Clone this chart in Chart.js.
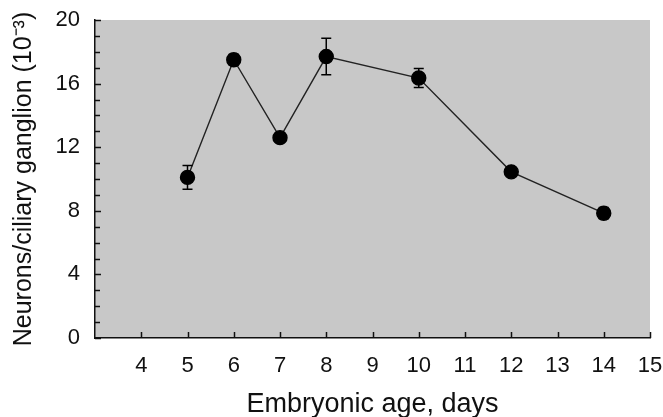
<!DOCTYPE html>
<html>
<head>
<meta charset="utf-8">
<script src="https://cdn.jsdelivr.net/npm/chart.js@4.4.0/dist/chart.umd.min.js"></script>
<style>
  html, body { margin: 0; padding: 0; background: #fff; }
</style>
</head>
<body>
<canvas id="myChart" width="663" height="417"></canvas>
<script>
// dados
const ages = [5, 6, 7, 8, 10, 12, 14];
const neurons = [10.1, 17.5, 12.6, 17.7, 16.35, 10.45, 7.85];
const errors = [0.75, 0.35, 0.3, 1.15, 0.6, 0.25, 0.35];
const yTicks = [0, 4, 8, 12, 16, 20];
const xTicks = [4, 5, 6, 7, 8, 9, 10, 11, 12, 13, 14, 15];

// fundo cinza da área do gráfico
const plotBackground = {
  id: 'plotBackground',
  beforeDraw(chart) {
    const { ctx, chartArea } = chart;
    ctx.save();
    ctx.fillStyle = '#c8c8c8';
    ctx.fillRect(chartArea.left, chartArea.top, chartArea.right - chartArea.left, chartArea.bottom - chartArea.top);
    ctx.restore();
  }
};

// marcas dos eixos voltadas para dentro
const innerTicks = {
  id: 'innerTicks',
  afterDraw(chart) {
    const { ctx, chartArea, scales } = chart;
    ctx.save();
    ctx.strokeStyle = '#111';
    ctx.lineWidth = 1.5;
    ctx.beginPath();
    for (let v = scales.y.min; v <= scales.y.max; v++) {
      const y = Math.round(scales.y.getPixelForValue(v)) + 0.5;
      const len = (v % 4 === 0) ? 6 : 5;
      ctx.moveTo(chartArea.left, y);
      ctx.lineTo(chartArea.left + len, y);
    }
    xTicks.forEach(function(v) {
      const x = Math.round(scales.x.getPixelForValue(v)) + 0.5;
      ctx.moveTo(x, chartArea.bottom);
      ctx.lineTo(x, chartArea.bottom - 6);
    });
    ctx.stroke();
    ctx.restore();
  }
};

// barras de erro
const errorBars = {
  id: 'errorBars',
  afterDatasetsDraw(chart) {
    const { ctx, scales } = chart;
    ctx.save();
    ctx.strokeStyle = '#000';
    ctx.lineWidth = 1.5;
    for (let i = 0; i < ages.length; i++) {
      const x = scales.x.getPixelForValue(ages[i]);
      const yTop = scales.y.getPixelForValue(neurons[i] + errors[i]);
      const yBot = scales.y.getPixelForValue(neurons[i] - errors[i]);
      ctx.beginPath();
      ctx.moveTo(x, yTop);
      ctx.lineTo(x, yBot);
      ctx.moveTo(x - 5, yTop);
      ctx.lineTo(x + 5, yTop);
      ctx.moveTo(x - 5, yBot);
      ctx.lineTo(x + 5, yBot);
      ctx.stroke();
    }
    ctx.restore();
  }
};

const data = {
  datasets: [{
    data: ages.map(function(a, i) { return { x: a, y: neurons[i] }; }),
    borderColor: '#222',
    borderWidth: 1.4,
    backgroundColor: '#000',
    pointBackgroundColor: '#000',
    pointBorderColor: '#000',
    pointRadius: 7,
    showLine: true,
    tension: 0
  }]
};

const fonte = 'Liberation Sans, Arial, sans-serif';

const options = {
  responsive: false,
  animation: false,
  layout: { padding: { top: 20, right: 13, left: 0, bottom: 0 } },
  plugins: {
    legend: { display: false },
    tooltip: { enabled: false }
  },
  scales: {
    x: {
      type: 'linear',
      min: 3,
      max: 15,
      afterBuildTicks(scale) {
        scale.ticks = xTicks.map(function(v) { return { value: v }; });
      },
      afterFit(scale) {
        scale.height = 79;
        scale.paddingLeft = 0;
        scale.paddingRight = 0;
      },
      grid: { display: false, drawTicks: false },
      border: { display: true, color: '#111', width: 1.5 },
      ticks: {
        color: '#111',
        font: { family: fonte, size: 22 },
        padding: 15,
        maxRotation: 0,
        autoSkip: false
      },
      title: {
        display: true,
        text: 'Embryonic age, days',
        color: '#111',
        font: { family: fonte, size: 27, lineHeight: 0.95 },
        padding: { top: 0, bottom: 0 }
      }
    },
    y: {
      min: 0,
      max: 20,
      afterBuildTicks(scale) {
        scale.ticks = yTicks.map(function(v) { return { value: v }; });
      },
      afterFit(scale) {
        scale.width = 95;
        scale.paddingTop = 0;
        scale.paddingBottom = 0;
      },
      grid: { display: false, drawTicks: false },
      border: { display: true, color: '#111', width: 1.5 },
      ticks: {
        color: '#111',
        font: { family: fonte, size: 22 },
        padding: 15
      },
      title: {
        display: true,
        text: 'Neurons/ciliary ganglion (10\u207B\u00B3)',
        color: '#111',
        font: { family: fonte, size: 25 },
        padding: { top: 9, bottom: 0 }
      }
    }
  }
};

const ctx = document.getElementById('myChart').getContext('2d');
const myChart = new Chart(ctx, {
  type: 'scatter',
  data: data,
  options: options,
  plugins: [plotBackground, innerTicks, errorBars]
});
</script>
</body>
</html>
